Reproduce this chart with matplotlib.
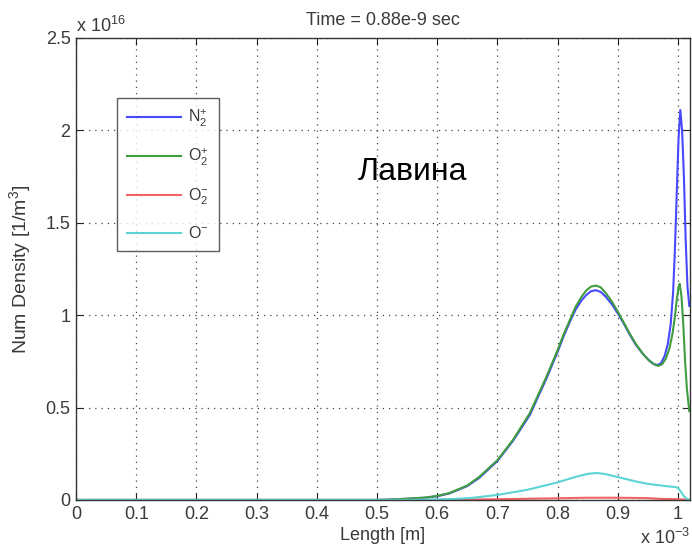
import matplotlib
matplotlib.use("Agg")
import matplotlib.pyplot as plt

plt.rcParams['font.family'] = ['Liberation Sans', 'DejaVu Sans']
plt.rcParams['mathtext.fontset'] = 'custom'
plt.rcParams['mathtext.rm'] = 'Liberation Sans'
plt.rcParams['mathtext.it'] = 'Liberation Sans'

# Length in units of 1e-3 m, densities in units of 1e16 1/m^3
x_n2p = [0.0, 0.50, 0.52, 0.55, 0.58, 0.60, 0.62, 0.65, 0.67, 0.70, 0.726, 0.754,
         0.782, 0.80, 0.81, 0.82, 0.83, 0.84, 0.848, 0.856, 0.864, 0.872, 0.88,
         0.89, 0.90, 0.91, 0.92, 0.93, 0.942, 0.952, 0.96, 0.966, 0.972, 0.978,
         0.983, 0.988, 0.992, 0.995, 0.998, 1.001, 1.004, 1.007, 1.010, 1.013,
         1.016, 1.019]
n2p = [0.0, 0.0, 0.002, 0.006, 0.012, 0.02, 0.035, 0.075, 0.12, 0.21, 0.32, 0.46,
       0.66, 0.80, 0.885, 0.96, 1.03, 1.08, 1.11, 1.13, 1.135, 1.125, 1.10,
       1.06, 1.01, 0.955, 0.895, 0.84, 0.79, 0.755, 0.735, 0.73, 0.74, 0.78,
       0.84, 0.95, 1.12, 1.35, 1.65, 1.95, 2.11, 2.0, 1.75, 1.4,
       1.15, 1.05]

x_o2p = [0.0, 0.50, 0.52, 0.55, 0.58, 0.60, 0.62, 0.65, 0.67, 0.70, 0.726, 0.754,
         0.782, 0.80, 0.81, 0.82, 0.83, 0.84, 0.848, 0.856, 0.864, 0.872, 0.88,
         0.89, 0.90, 0.91, 0.92, 0.93, 0.942, 0.952, 0.96, 0.967, 0.974, 0.98,
         0.986, 0.991, 0.995, 0.998, 1.001, 1.003, 1.006, 1.009, 1.012, 1.015,
         1.019]
o2p = [0.0, 0.0, 0.002, 0.007, 0.013, 0.022, 0.037, 0.078, 0.125, 0.215, 0.325, 0.47,
       0.67, 0.81, 0.895, 0.97, 1.045, 1.10, 1.135, 1.155, 1.16, 1.15, 1.12,
       1.075, 1.02, 0.96, 0.9, 0.845, 0.79, 0.755, 0.735, 0.725, 0.735, 0.765,
       0.82, 0.9, 0.99, 1.08, 1.15, 1.17, 1.1, 0.95, 0.75, 0.6,
       0.48]

x_o2m = [0.0, 0.60, 0.65, 0.70, 0.78, 0.85, 0.90, 0.95, 0.97, 1.0, 1.019]
o2m = [0.0, 0.0, 0.002, 0.004, 0.008, 0.012, 0.012, 0.010, 0.006, 0.004, 0.001]

x_om = [0.0, 0.55, 0.60, 0.633, 0.66, 0.70, 0.75, 0.80, 0.83, 0.85, 0.865, 0.88,
        0.90, 0.93, 0.95, 0.98, 0.995, 1.0, 1.005, 1.01, 1.015, 1.019]
om = [0.0, 0.0, 0.003, 0.006, 0.012, 0.027, 0.055, 0.095, 0.125, 0.141, 0.146, 0.14,
      0.124, 0.10, 0.087, 0.075, 0.07, 0.065, 0.045, 0.02, 0.005, 0.002]

series = [
    (x_n2p, n2p, '#4848ff', r'N$_2^{+}$'),
    (x_o2p, o2p, '#3f9c3f', r'O$_2^{+}$'),
    (x_o2m, o2m, '#f26464', r'O$_2^{-}$'),
    (x_om, om, '#5cd4d4', r'O$^{-}$'),
]

xticks = [0, 0.1, 0.2, 0.3, 0.4, 0.5, 0.6, 0.7, 0.8, 0.9, 1.0]
xticklabels = ['0', '0.1', '0.2', '0.3', '0.4', '0.5', '0.6', '0.7', '0.8', '0.9', '1']
yticks = [0, 0.5, 1.0, 1.5, 2.0, 2.5]
yticklabels = ['0', '0.5', '1', '1.5', '2', '2.5']

fig = plt.figure(figsize=(6.92, 5.5), dpi=100)
ax = fig.add_axes([0.110, 0.091, 0.887, 0.840])

for xs, ys, c, lab in series:
    ax.plot(xs, ys, color=c, lw=1.5, label=lab)

ax.set_xlim(0, 1.02)
ax.set_ylim(0, 2.5)
ax.set_xticks(xticks)
ax.set_xticklabels(xticklabels)
ax.set_yticks(yticks)
ax.set_yticklabels(yticklabels)
tc = '#3a3a3a'
ax.tick_params(direction='in', length=5, width=0.8, top=True, right=True,
               labelsize=13, colors='#222222', labelcolor=tc, pad=4)
ax.grid(True, linestyle=(0, (1, 4)), color='#444444', linewidth=0.9)
for s in ax.spines.values():
    s.set_color('#333333')
    s.set_linewidth(1.0)

ax.set_title('Time = 0.88e-9 sec', fontsize=13, color=tc, pad=9)
ax.set_xlabel('Length [m]', fontsize=13, color=tc, labelpad=3)
ax.set_ylabel(r'Num Density [1/m$^3$]', fontsize=14, color=tc, labelpad=9)

ax.text(0.0, 1.005, r'x 10$^{16}$', transform=ax.transAxes, fontsize=13,
        color=tc, ha='left', va='bottom')
ax.text(1.0, -0.104, r'x 10$^{-3}$', transform=ax.transAxes, fontsize=13,
        color=tc, ha='right', va='bottom')

ax.text(0.459, 0.71, 'Лавина', transform=ax.transAxes, fontsize=23,
        color='black', ha='left', va='center')

leg = ax.legend(loc='upper left', bbox_to_anchor=(0.067, 0.870), fontsize=11.5,
                frameon=True, fancybox=False, edgecolor='#333333',
                handlelength=3.4, handletextpad=0.45, labelspacing=1.15,
                borderpad=0.6, borderaxespad=0.0)
leg.get_frame().set_linewidth(1.0)
for t in leg.get_texts():
    t.set_color(tc)

fig.savefig('out.png', dpi=100)
